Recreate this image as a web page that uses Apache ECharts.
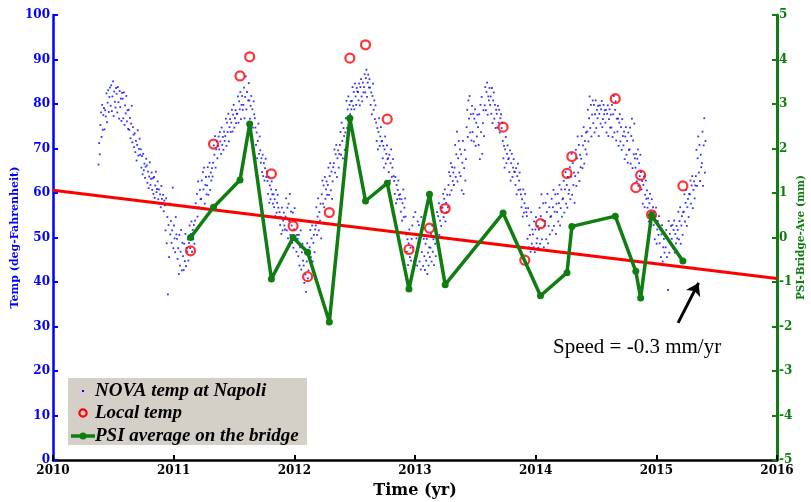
<!DOCTYPE html>
<html>
<head>
<meta charset="utf-8">
<script src="https://cdn.jsdelivr.net/npm/echarts@6/dist/echarts.min.js"></script>
<style>
  html, body { margin: 0; padding: 0; background: #fff; }
  #chart { width: 811px; height: 502px; }
</style>
</head>
<body>
<div id="chart"></div>
<script>
const novaStart = 2010.375;
const novaBinWidth = 0.05;
const novaBins = [
  [66.4,71.2,68.7,75.3,78.1,72.6,79.8,74.2,77.5,79.1],
  [74.3,78.6,77.2,82.4,75.9,80.3,83.1,78.2,81.6,83.7],
  [79.6,84.2,78.4,81.7,85.1,77.3,82.8,80.5,79.2,83.6],
  [82.3,78.1,83.8,80.4,76.7,82.9,79.3,81.2,76.2,82.5],
  [81.2,76.8,82.6,75.3,79.7,77.9,81.8,76.1,78.6,74.4],
  [78.7,74.2,76.9,72.3,75.6,79.6,71.4,74.8,73.1,70.3],
  [73.4,69.2,71.7,67.3,70.8,74.1,68.4,69.9,72.2,68.6],
  [69.8,65.7,68.3,64.2,68.8,65.1,66.6,63.4,65.9,67.7],
  [66.2,62.3,64.8,61.1,63.7,66.9,61.8,63.2,64.6,60.7],
  [63.3,59.8,63.6,58.9,61.7,64.8,60.2,60.9,62.6,58.6],
  [60.8,57.6,59.7,56.8,61.6,58.7,57.8,59.6,55.9,58.3],
  [57.2,51.6,58.8,48.7,54.6,37.2,52.8,45.6,57.6,50.7],
  [53.7,48.8,51.6,61.2,47.6,52.7,49.8,46.7,54.6,50.7],
  [49.7,45.2,47.6,41.8,50.6,43.7,46.8,51.7,42.6,48.8],
  [45.8,42.7,48.6,44.7,50.8,43.6,47.7,46.8,49.6,44.8],
  [48.8,52.7,47.6,50.8,53.6,46.8,51.7,49.6,52.8,48.6],
  [53.8,57.7,51.6,59.8,54.7,62.6,56.8,52.7,60.7,58.6],
  [58.7,62.8,56.6,64.7,60.8,65.7,57.6,61.8,63.6,59.7],
  [61.7,65.8,59.6,63.7,66.8,60.7,64.6,62.8,65.6,63.7],
  [66.8,70.7,68.6,72.8,65.7,69.8,71.6,67.8,70.6,72.7],
  [69.8,73.7,71.6,68.8,74.7,70.8,72.6,69.7,73.8,71.7],
  [72.8,76.7,70.6,75.8,73.7,77.8,71.6,74.8,76.6,73.7],
  [75.8,78.7,73.8,77.6,79.8,74.7,76.8,78.6,75.7,77.8],
  [77.8,81.7,75.8,80.6,78.8,82.7,76.6,79.8,81.8,78.7],
  [79.8,83.7,76.8,81.6,86.2,78.8,82.7,75.6,80.8,84.7],
  [80.8,76.7,79.6,81.8,75.7,78.8,74.7,80.6,77.7,76.8],
  [74.7,70.8,73.6,67.8,71.7,75.6,68.8,72.7,69.6,66.8],
  [67.8,64.7,68.6,63.8,66.7,62.8,65.6,67.7,63.6,64.8],
  [62.7,59.8,63.6,57.8,61.7,58.6,60.8,62.6,59.7,57.6],
  [59.7,56.8,58.6,54.8,60.7,55.6,57.8,59.6,56.7,54.6],
  [55.7,52.8,54.6,50.8,56.7,51.6,53.8,55.6,52.7,51.8],
  [54.7,58.8,51.6,56.7,49.8,57.6,53.7,59.8,50.6,55.8],
  [52.7,48.8,55.6,47.7,51.8,56.6,49.7,53.8,46.8,50.6],
  [49.7,45.8,50.6,43.7,47.8,51.6,42.8,46.7,48.6,44.8],
  [43.7,39.8,46.6,41.7,37.8,44.6,48.7,40.8,42.6,45.7],
  [47.8,51.7,45.6,49.8,52.7,44.6,48.8,50.6,46.7,51.8],
  [52.7,56.8,50.6,54.7,58.8,51.6,55.7,53.8,57.6,49.8],
  [59.7,62.8,57.6,61.7,56.8,63.6,58.7,60.8,62.6,59.6],
  [61.8,65.7,59.6,63.8,66.7,60.6,64.8,58.7,62.6,65.8],
  [66.7,69.8,64.6,68.7,70.8,63.6,67.8,69.6,65.7,68.8],
  [70.8,73.7,68.6,75.8,71.7,67.8,74.6,72.8,69.7,73.6],
  [76.8,80.7,74.6,78.8,81.7,75.6,79.8,77.7,80.6,78.8],
  [80.7,83.8,79.6,82.7,78.8,84.6,81.7,79.8,83.6,82.8],
  [82.7,80.8,84.6,79.7,83.8,85.6,81.7,80.6,84.8,82.6],
  [83.8,86.7,82.6,85.8,87.7,81.6,84.8,86.6,83.7,85.6],
  [83.7,79.8,82.6,77.7,81.8,84.6,78.7,80.8,76.6,79.7],
  [75.8,71.7,74.6,69.8,73.7,76.8,70.6,72.7,74.8,71.6],
  [71.7,67.8,70.6,65.7,69.8,72.7,66.6,68.8,70.7,67.6],
  [67.8,64.7,68.6,62.8,66.7,69.8,63.6,65.7,67.6,63.8],
  [62.7,59.8,63.6,57.7,61.8,58.6,60.7,62.8,59.6,58.7],
  [59.7,55.8,58.6,53.8,57.7,60.8,54.6,56.7,58.8,54.7],
  [50.7,46.8,49.6,43.8,48.7,51.8,45.6,47.7,44.8,49.7],
  [52.7,47.8,54.6,44.7,50.8,55.7,46.6,49.8,43.7,53.6],
  [48.7,52.8,44.6,50.7,42.8,54.6,46.7,51.8,43.6,49.7],
  [45.8,42.7,48.6,44.8,49.7,41.8,46.6,43.7,47.8,45.6],
  [47.7,50.8,44.6,52.7,46.8,49.6,43.8,51.7,48.6,45.8],
  [51.8,55.7,49.6,54.8,57.7,50.6,53.8,56.7,52.6,55.8],
  [56.7,59.8,54.6,58.7,60.8,53.6,57.8,55.7,59.6,56.8],
  [61.8,64.7,59.6,63.8,66.7,60.6,65.8,62.7,64.6,61.8],
  [65.7,70.8,63.6,68.7,73.8,62.6,67.8,71.7,64.6,69.8],
  [63.8,68.7,60.6,66.8,71.7,59.8,65.6,69.7,62.8,67.6],
  [74.8,78.7,72.6,80.8,76.7,81.8,73.6,77.7,71.8,79.6],
  [73.7,77.8,71.6,76.7,78.8,70.6,75.8,72.7,77.6,74.8],
  [70.8,77.7,67.6,79.8,73.7,81.6,68.8,75.7,78.6,72.8],
  [79.7,83.8,78.6,82.7,84.8,77.6,81.7,80.8,83.6,79.8],
  [81.7,77.8,83.6,75.7,80.8,82.6,76.7,79.8,74.6,78.7],
  [77.8,74.7,79.6,75.8,78.7,73.6,76.8,77.7,74.6,75.8],
  [71.7,67.8,70.6,65.7,69.8,72.6,66.7,68.8,70.7,67.6],
  [67.8,64.7,69.6,62.8,66.7,68.8,63.6,65.7,67.6,64.8],
  [64.7,61.8,65.6,59.7,63.8,66.6,60.7,62.8,64.6,60.8],
  [59.7,56.8,58.6,54.7,60.8,55.6,57.7,59.8,56.6,55.7],
  [54.8,49.7,56.6,47.8,52.7,50.6,46.8,55.7,48.6,51.8],
  [50.7,47.8,53.6,46.7,51.8,54.6,48.7,49.8,52.6,47.7],
  [51.8,56.7,48.6,54.8,59.7,49.6,53.8,57.7,47.8,52.6],
  [53.7,57.8,49.6,55.7,59.8,48.7,52.6,56.8,50.7,54.6],
  [54.8,58.7,51.6,56.8,60.7,52.6,55.8,59.7,50.8,57.6],
  [55.7,59.8,53.6,57.7,61.8,52.7,56.6,60.8,54.7,58.6],
  [58.8,62.7,55.6,60.8,64.7,57.6,61.8,56.7,63.6,59.8],
  [60.7,65.8,58.6,63.7,68.8,59.6,66.7,61.8,64.6,57.8],
  [63.8,69.7,61.6,67.8,72.7,64.6,70.8,62.7,68.6,65.8],
  [67.7,72.8,65.6,70.7,74.8,66.6,71.7,69.8,73.6,68.7],
  [73.8,78.7,71.6,76.8,81.7,74.6,79.8,72.7,77.6,80.8],
  [75.7,79.8,73.6,77.7,80.8,74.6,78.7,76.8,79.6,72.8],
  [77.8,79.7,75.6,78.8,80.7,74.8,76.6,79.8,77.7,78.6],
  [75.8,78.7,73.6,77.8,79.7,72.8,76.6,78.8,74.7,77.6],
  [74.7,79.8,72.6,77.7,81.8,73.6,78.7,80.6,71.8,76.7],
  [73.8,76.7,70.6,75.8,77.7,71.6,74.8,69.7,76.6,72.8],
  [70.7,73.8,67.6,72.7,74.8,68.6,71.7,66.8,73.6,69.7],
  [69.8,74.7,66.6,72.8,76.7,65.6,71.8,68.7,75.6,67.8],
  [65.7,68.8,62.6,67.7,69.8,61.6,66.7,63.8,68.6,64.7],
  [60.8,62.7,57.6,61.8,63.7,56.8,59.6,62.8,58.7,60.6],
  [56.7,58.8,53.6,57.7,59.8,52.6,55.8,58.6,54.7,56.8],
  [52.8,55.7,49.6,54.8,56.7,48.6,51.8,53.7,50.6,54.8],
  [48.7,51.8,45.6,50.7,52.8,44.6,47.8,49.7,46.6,50.8],
  [47.8,51.7,45.6,49.8,38.2,53.7,46.6,50.8,48.7,52.6],
  [49.7,52.8,47.6,51.7,53.8,46.6,50.8,48.7,52.6,49.8],
  [51.7,55.8,49.6,53.7,56.8,48.6,52.7,54.8,50.6,55.7],
  [55.8,59.7,53.6,57.8,60.7,52.6,56.8,58.7,54.6,59.8],
  [59.7,62.8,57.6,61.7,63.8,56.6,60.7,62.6,58.8,61.7],
  [63.8,69.7,61.6,67.8,72.7,64.6,70.8,62.7,68.6,65.8],
  [66.7,73.8,61.6,70.7,76.8,64.6,71.7]
];

// local temp measurements (deg F)
const localYears = [2011.14, 2011.33, 2011.55, 2011.63, 2011.81, 2011.99, 2012.11, 2012.29, 2012.46, 2012.59, 2012.77, 2012.95,
  2013.12, 2013.25, 2013.73, 2013.91, 2014.04, 2014.26, 2014.30, 2014.66, 2014.83, 2014.87, 2014.96, 2015.22];
const localTemp = [47.0, 71.0, 86.3, 90.6, 64.3, 52.6, 41.2, 55.6, 90.3, 93.3, 76.6, 47.3,
  52.1, 56.5, 74.8, 44.9, 53.1, 64.4, 68.2, 81.2, 61.2, 64.0, 55.1, 61.6];

// PSI bridge average (mm)
const psiYears = [2011.14, 2011.33, 2011.55, 2011.63, 2011.81, 2011.99, 2012.11, 2012.29, 2012.46, 2012.59, 2012.77, 2012.95,
  2013.12, 2013.25, 2013.73, 2014.04, 2014.26, 2014.30, 2014.66, 2014.83, 2014.87, 2014.96, 2015.22];
const psiValues = [0.0, 0.68, 1.29, 2.55, -0.93, 0.0, -0.33, -1.9, 2.68, 0.82, 1.22, -1.16,
  0.97, -1.06, 0.55, -1.31, -0.79, 0.25, 0.48, -0.76, -1.36, 0.50, -0.53];

// linear fit of PSI (mm), -0.33 mm/yr
const trendYears = [2010, 2016];
const trendValues = [1.06, -0.92];

// arrow pointing at the fit line (yr, mm)
const arrowFrom = [2015.18, -1.92];
const arrowTo = [2015.35, -1.02];

const serif = 'Liberation Serif';
const dvSerif = 'DejaVu Serif';

const novaData = [];
novaBins.forEach((bin, b) => {
  bin.forEach((v, k) => {
    novaData.push([novaStart + b * novaBinWidth + (k + 0.5) * 0.005, v]);
  });
});
const localData = localYears.map((t, i) => [t, localTemp[i]]);
const psiData = psiYears.map((t, i) => [t, psiValues[i]]);
const trendData = trendYears.map((t, i) => [t, trendValues[i]]);

const chart = echarts.init(document.getElementById('chart'));
const green = '#0f7d0f';
const legendFont = { fontFamily: serif, fontStyle: 'italic', fontWeight: 'bold', fontSize: 19, fill: '#000', verticalAlign: 'middle' };

const option = {
  animation: false,
  grid: { left: 53, right: 34, top: 15, bottom: 42, containLabel: false, outerBoundsMode: 'none' },
  xAxis: {
    type: 'value', min: 2010, max: 2016, interval: 1,
    name: 'Time (yr)', nameLocation: 'middle', nameGap: 23, nameMoveOverlap: false,
    nameTextStyle: { fontFamily: dvSerif, fontSize: 16, fontWeight: 'bold', color: '#000' },
    axisLine: { lineStyle: { color: '#000', width: 2.5 } },
    axisTick: { inside: true, length: 5, lineStyle: { color: '#000', width: 2 } },
    axisLabel: { color: '#000', fontFamily: dvSerif, fontSize: 12, fontWeight: 'bold', margin: 5, formatter: v => String(v) },
    splitLine: { show: false }
  },
  yAxis: [
    {
      type: 'value', min: 0, max: 100, interval: 10, position: 'left',
      name: 'Temp (deg-Fahrenheit)', nameLocation: 'middle', nameRotate: 90, nameGap: 32, nameMoveOverlap: false,
      nameTextStyle: { fontFamily: dvSerif, fontSize: 11, fontWeight: 'bold', color: '#0000ff' },
      axisLine: { show: true, lineStyle: { color: '#0000ff', width: 2.5 } },
      axisTick: { show: true, inside: true, length: 5, lineStyle: { color: '#0000ff', width: 2 } },
      axisLabel: { color: '#0000ff', fontFamily: dvSerif, fontSize: 12, fontWeight: 'bold', margin: 3 },
      splitLine: { show: false }
    },
    {
      type: 'value', min: -5, max: 5, interval: 1, position: 'right',
      name: 'PSI-Bridge-Ave (mm)', nameLocation: 'middle', nameRotate: 90, nameGap: 19, nameMoveOverlap: false,
      nameTextStyle: { fontFamily: dvSerif, fontSize: 10.5, fontWeight: 'bold', color: green },
      axisLine: { show: true, lineStyle: { color: green, width: 3 } },
      axisTick: { show: true, inside: true, length: 5, lineStyle: { color: green, width: 2 } },
      axisLabel: { color: green, fontFamily: dvSerif, fontSize: 12, fontWeight: 'bold', margin: 2 },
      splitLine: { show: false }
    }
  ],
  series: [
    {
      name: 'NOVA temp at Napoli', type: 'scatter', data: novaData,
      symbol: 'rect', symbolSize: 1.8, itemStyle: { color: '#0000ff' }, silent: true
    },
    {
      name: 'trend', type: 'line', yAxisIndex: 1, data: trendData,
      showSymbol: false, lineStyle: { color: '#ff0000', width: 3 }, silent: true,
      markLine: {
        silent: true, symbol: ['none', 'arrow'], symbolSize: 12,
        label: { show: false },
        lineStyle: { color: '#000', width: 3, type: 'solid' },
        data: [[{ coord: arrowFrom }, { coord: arrowTo }]]
      }
    },
    {
      name: 'PSI average on the bridge', type: 'line', yAxisIndex: 1, data: psiData,
      symbol: 'circle', symbolSize: 7,
      lineStyle: { color: green, width: 3.5 }, itemStyle: { color: green }
    },
    {
      name: 'Local temp', type: 'scatter', data: localData,
      symbol: 'circle', symbolSize: 9,
      itemStyle: { color: 'rgba(0,0,0,0)', borderColor: '#ff0000', borderWidth: 2.2 }
    }
  ],
  graphic: [
    {
      type: 'text', x: 553, y: 347,
      style: { text: 'Speed = -0.3 mm/yr', fontFamily: serif, fontSize: 21, fill: '#000', verticalAlign: 'middle' }
    },
    {
      type: 'group', left: 68, top: 378,
      children: [
        { type: 'rect', shape: { x: 0, y: 0, width: 239, height: 67 }, style: { fill: '#d4d0c8' } },
        { type: 'rect', shape: { x: 14, y: 12, width: 2, height: 2 }, style: { fill: '#0000ff' } },
        { type: 'circle', shape: { cx: 15, cy: 35, r: 3.6 }, style: { fill: 'none', stroke: '#ff0000', lineWidth: 2.2 } },
        { type: 'line', shape: { x1: 3, y1: 58, x2: 27, y2: 58 }, style: { stroke: green, lineWidth: 3.5 } },
        { type: 'circle', shape: { cx: 15, cy: 58, r: 3.5 }, style: { fill: green } },
        { type: 'text', x: 27, y: 13, style: Object.assign({ text: 'NOVA temp at Napoli' }, legendFont) },
        { type: 'text', x: 27, y: 35, style: Object.assign({ text: 'Local temp' }, legendFont) },
        { type: 'text', x: 27, y: 58, style: Object.assign({ text: 'PSI average on the bridge' }, legendFont) }
      ]
    }
  ]
};

chart.setOption(option);
</script>
</body>
</html>
